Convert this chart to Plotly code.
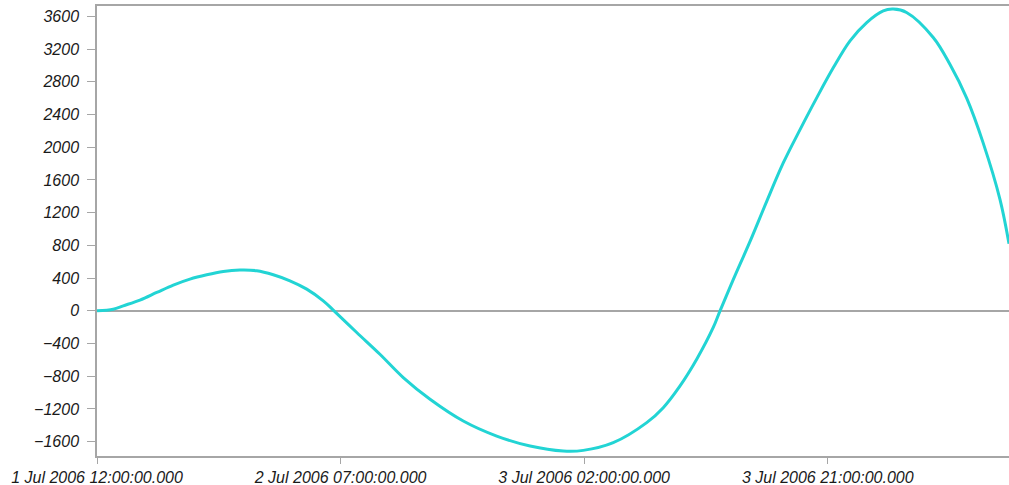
import plotly.graph_objects as go
import pandas as pd

# Hours after 1 Jul 2006 12:00 and the series value
hours = [0, 1.27, 2.05, 3.35, 4.66, 5.95, 7.25, 8.56, 9.85, 11.15, 12.46, 13.75,
         15.05, 16.36, 17.65, 18.49, 20.26, 22.07, 23.89, 25.98, 28.57, 31.18,
         33.78, 36.37, 37.93, 40.27, 42.88, 44.17, 45.48, 46.78, 48.07, 48.6,
         49.63, 50.94, 52.24, 53.53, 54.84, 56.14, 57.43, 58.74, 60.04, 61.33,
         62.11, 63.15, 65.23, 66.54, 67.84, 69.13, 70.44, 71.14]
values = [0, 20, 61, 131, 224, 315, 388, 441, 481, 498, 490, 441,
          367, 265, 122, 0, -265, -531, -816, -1081, -1347, -1531,
          -1653, -1714, -1706, -1612, -1367, -1184, -918, -592, -204, 0,
          380, 848, 1338, 1807, 2215, 2603, 2970, 3300, 3524, 3667,
          3688, 3647, 3341, 3010, 2600, 2050, 1360, 820]

start = pd.Timestamp("2006-07-01 12:00:00")
times = [start + pd.Timedelta(hours=h) for h in hours]

y_ticks = list(range(-1600, 3601, 400))
x_tick_hours = [0, 19, 38, 57]
x_ticks = [start + pd.Timedelta(hours=h) for h in x_tick_hours]
x_labels = [t.strftime("%-d %b %Y %H:%M:%S") + ".000" for t in x_ticks]

fig = go.Figure()
fig.add_trace(go.Scatter(
    x=times, y=values, mode="lines",
    line=dict(color="#22d4d4", width=3, shape="spline", smoothing=1.0),
    hoverinfo="x+y", showlegend=False,
))

tickfont = dict(family="Liberation Sans, Arial, sans-serif", size=16, color="#1a1a1a", style="italic")

fig.update_layout(
    width=1009, height=485,
    margin=dict(l=97, r=0, t=6, b=29, autoexpand=False),
    paper_bgcolor="white", plot_bgcolor="white",
    xaxis=dict(
        type="date", automargin=False,
        range=[start, start + pd.Timedelta(hours=71.14)],
        tickvals=x_ticks, ticktext=x_labels,
        showgrid=False, zeroline=False,
        showline=True, linecolor="#a6a6a6", linewidth=1.5, mirror=True,
        ticks="outside", ticklen=6, tickcolor="#a6a6a6", tickwidth=1,
        ticklabelstandoff=0,
        tickfont=tickfont,
    ),
    yaxis=dict(
        range=[-1775, 3726], automargin=False,
        tickvals=y_ticks,
        showgrid=False,
        zeroline=True, zerolinecolor="#a6a6a6", zerolinewidth=1.5,
        showline=True, linecolor="#a6a6a6", linewidth=1.5,
        ticks="outside", ticklen=8, tickcolor="#a6a6a6", tickwidth=1,
        ticklabelstandoff=5,
        tickfont=tickfont,
    ),
)

fig.write_html(
    "out.html",
    config={"displayModeBar": False},
    post_script="document.body.style.margin='0';document.body.style.overflow='hidden';",
)
